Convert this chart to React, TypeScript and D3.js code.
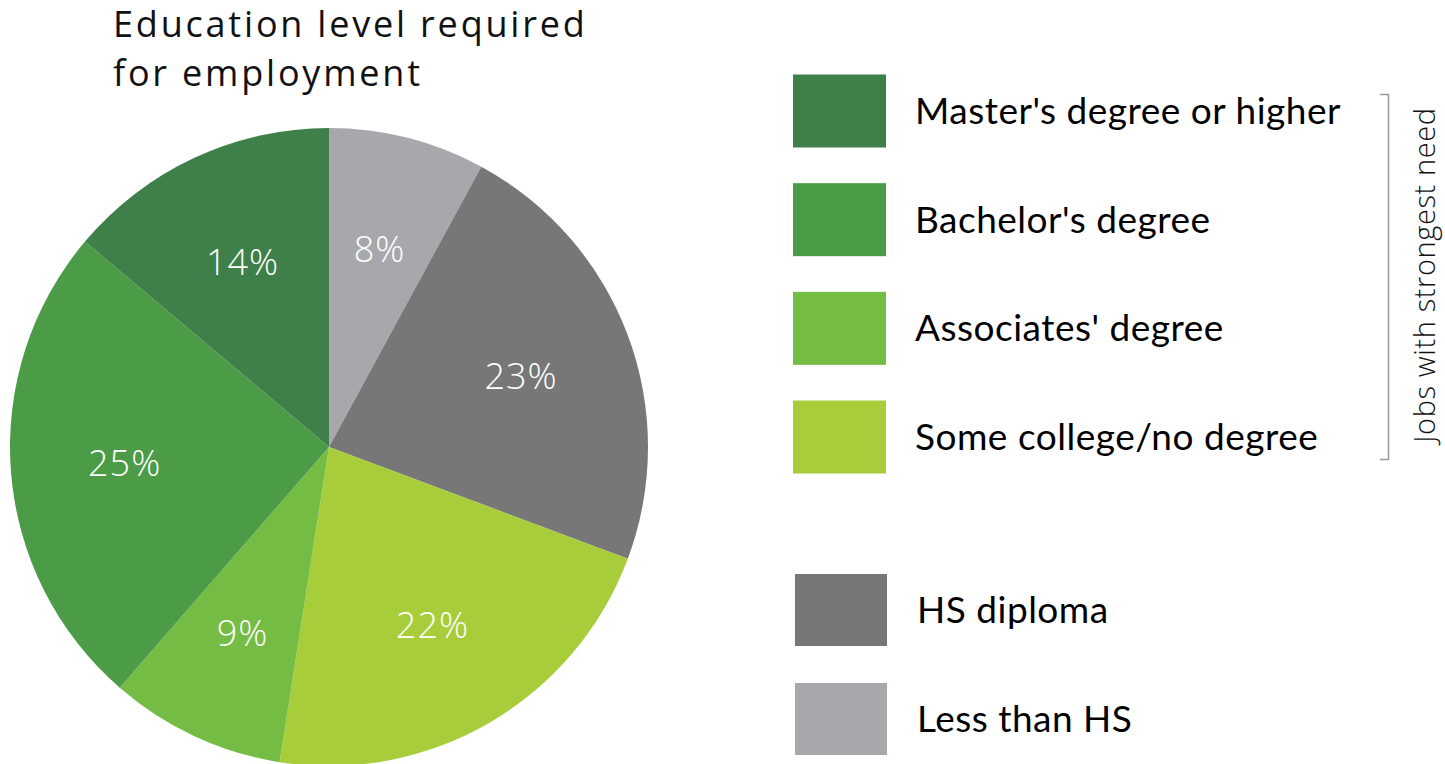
import React from "react";
import * as d3 from "d3";

// slices clockwise from 12 o'clock
const sliceNames = ["Less than HS", "HS diploma", "Some college/no degree", "Associates' degree", "Bachelor's degree", "Master's degree or higher"];
const sliceValues = [8, 23, 22, 9, 25, 14];
const sliceColors = ["#a7a8ac", "#777777", "#a7cd3a", "#75bc45", "#4b9b47", "#3f7f4a"];

// legend order
const legendTop = ["Master's degree or higher", "Bachelor's degree", "Associates' degree", "Some college/no degree"];
const legendBottom = ["HS diploma", "Less than HS"];

const W = 1445, H = 764;
const cx = 329, cy = 447, R = 319;

export default function App() {
  const pie = d3.pie<number>().sort(null).value(d => d);
  const arcs = pie(sliceValues);
  const arc = d3.arc<d3.PieArcDatum<number>>().innerRadius(0).outerRadius(R);
  const labelArc = d3.arc<d3.PieArcDatum<number>>().innerRadius(205 * 2 - R).outerRadius(R);
  const colorOf = (name: string) => sliceColors[sliceNames.indexOf(name)];

  const yTop = d3.scalePoint().domain(legendTop).range([111, 437]);
  const yBot = d3.scalePoint().domain(legendBottom).range([610, 719]);

  return (
    <svg width={W} height={H} style={{ position: "absolute", left: 0, top: 0, background: "#fff" }}>
      <text x={113} y={37} fontFamily="'Open Sans'" fontWeight={400} fontSize={36} letterSpacing={2.8} fill="#111">Education level required</text>
      <text x={113} y={86} fontFamily="'Open Sans'" fontWeight={400} fontSize={36} letterSpacing={2.8} fill="#111">for employment</text>

      <g transform={`translate(${cx},${cy})`}>
        {arcs.map((a, i) => (
          <path key={i} d={arc(a) || ""} fill={sliceColors[i]} />
        ))}
        {arcs.map((a, i) => {
          const [x, y] = labelArc.centroid(a);
          return (
            <text key={"l" + i} x={x} y={y} textAnchor="middle" dominantBaseline="central"
              fontFamily="'Open Sans'" fontWeight={300} fontSize={36} letterSpacing={1} fill="#fff">{sliceValues[i]}%</text>
          );
        })}
      </g>

      {legendTop.map(name => (
        <g key={name} transform={`translate(0,${yTop(name)})`}>
          <rect x={793} y={-36.5} width={93} height={73} fill={colorOf(name)} />
          <text x={915} y={13} fontFamily="Lato" fontSize={37} letterSpacing={0.5} fill="#000">{name}</text>
        </g>
      ))}
      {legendBottom.map(name => (
        <g key={name} transform={`translate(0,${yBot(name)})`}>
          <rect x={795} y={-36} width={92} height={72} fill={colorOf(name)} />
          <text x={917} y={13} fontFamily="Lato" fontSize={37} letterSpacing={0.5} fill="#000">{name}</text>
        </g>
      ))}

      <path d="M1380,94.5 H1388.5 V459.5 H1380" fill="none" stroke="#999" strokeWidth={1.5} />
      <text transform="translate(1435,275) rotate(-90)" textAnchor="middle" fontFamily="'Open Sans'" fontWeight={300} fontSize={29} letterSpacing={0.6} fill="#111">Jobs with strongest need</text>
    </svg>
  );
}
